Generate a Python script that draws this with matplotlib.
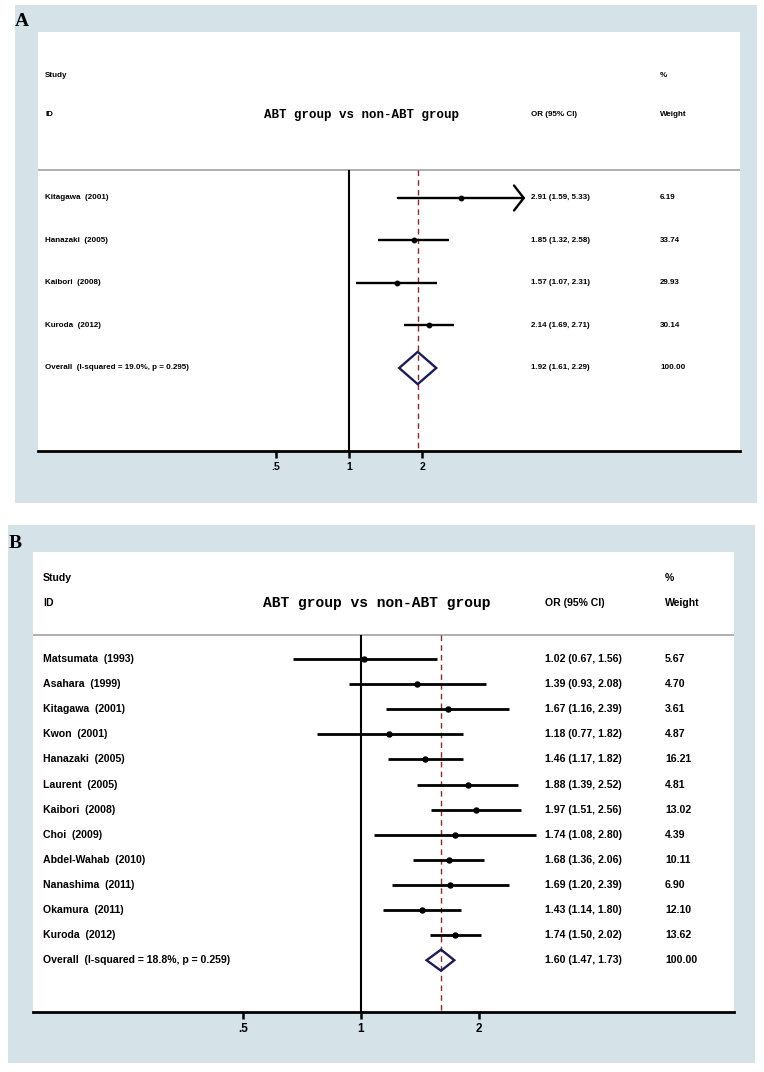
import numpy as np
import matplotlib.pyplot as plt
from matplotlib.patches import Rectangle, Polygon
from matplotlib.transforms import blended_transform_factory

# ---- data: panel A ----
a_study = ['Kitagawa  (2001)', 'Hanazaki  (2005)', 'Kaibori  (2008)', 'Kuroda  (2012)']
a_or = [2.91, 1.85, 1.57, 2.14]
a_lo = [1.59, 1.32, 1.07, 1.69]
a_hi = [5.33, 2.58, 2.31, 2.71]
a_weight = [6.19, 33.74, 29.93, 30.14]
a_arrow = [True, False, False, False]
a_overall = [1.92, 1.61, 2.29]
a_overall_label = 'Overall  (I-squared = 19.0%, p = 0.295)'

# ---- data: panel B ----
b_study = ['Matsumata  (1993)', 'Asahara  (1999)', 'Kitagawa  (2001)', 'Kwon  (2001)',
           'Hanazaki  (2005)', 'Laurent  (2005)', 'Kaibori  (2008)', 'Choi  (2009)',
           'Abdel-Wahab  (2010)', 'Nanashima  (2011)', 'Okamura  (2011)', 'Kuroda  (2012)']
b_or = [1.02, 1.39, 1.67, 1.18, 1.46, 1.88, 1.97, 1.74, 1.68, 1.69, 1.43, 1.74]
b_lo = [0.67, 0.93, 1.16, 0.77, 1.17, 1.39, 1.51, 1.08, 1.36, 1.20, 1.14, 1.50]
b_hi = [1.56, 2.08, 2.39, 1.82, 1.82, 2.52, 2.56, 2.80, 2.06, 2.39, 1.80, 2.02]
b_weight = [5.67, 4.70, 3.61, 4.87, 16.21, 4.81, 13.02, 4.39, 10.11, 6.90, 12.10, 13.62]
b_arrow = [False] * 12
b_overall = [1.60, 1.47, 1.73]
b_overall_label = 'Overall  (I-squared = 18.8%, p = 0.259)'

tick_vals = [0.5, 1, 2]
tick_labels = ['.5', '1', '2']
title = 'ABT group vs non-ABT group'

W, H = 764, 1072
BG = '#d5e2e8'
NAVY = '#1c1c54'
RED = '#8b2b2b'
SANS = ['Liberation Sans Narrow', 'Liberation Sans', 'DejaVu Sans']

fig = plt.figure(figsize=(W / 100, H / 100), dpi=100)


def px_rect(x0, y0, x1, y1):
    return [x0 / W, 1 - y1 / H, (x1 - x0) / W, (y1 - y0) / H]


def panel(box, white, label, label_xy, x1px, per2, rows_px, study, ors, los, his, wts,
          arrows, overall, overall_label, hdr_px, fs, tfs, tick_fs, lw, ms, dh):
    fig.add_artist(Rectangle(box[:2], box[2], box[3], transform=fig.transFigure,
                             facecolor=BG, edgecolor='none', zorder=-5))
    fig.text(label_xy[0] / W, 1 - label_xy[1] / H, label, family='Liberation Serif',
             weight='bold', fontsize=14, ha='center', va='center')
    x0, y0, x1, y1 = white
    ax = fig.add_axes(px_rect(x0, y0, x1, y1))
    ax.set_xscale('log', base=2)
    ax.set_xlim(2 ** (-(x1px - x0) / per2), 2 ** ((x1 - x1px) / per2))
    first, step = rows_px
    ax.set_ylim((y1 - first) / step, (y0 - first) / step)
    n = len(study)
    rows = np.arange(n)
    study_y, id_y, sep_y = [(p - first) / step for p in hdr_px[:3]]
    ybot = ax.get_ylim()[0]

    ax.axhline(sep_y, color='#9a9a9a', lw=1.1)
    ax.vlines(1, sep_y, ybot, color='black', lw=1.5, zorder=3)
    ax.vlines(overall[0], sep_y, ybot, color=RED, lw=1.0, linestyles=(0, (4, 3)), zorder=3)

    for i in rows:
        if arrows[i]:
            ax.annotate('', xy=(his[i], i), xytext=(los[i], i),
                        arrowprops=dict(arrowstyle='->,head_length=0.7,head_width=0.9',
                                        lw=lw, color='black', mutation_scale=10,
                                        shrinkA=0, shrinkB=0), zorder=4)
        else:
            ax.hlines(i, los[i], his[i], color='black', lw=lw, zorder=4)
    ax.plot(ors, rows, 'o', color='black', ms=ms, zorder=5)

    est, lo, hi = overall
    ax.add_patch(Polygon([(lo, n), (est, n - dh), (hi, n), (est, n + dh)], closed=True,
                         fill=False, edgecolor=NAVY, lw=1.7, joinstyle='miter', zorder=5))

    tr = blended_transform_factory(ax.transAxes, ax.transData)
    lx = (hdr_px[3] - x0) / (x1 - x0)
    ox = (hdr_px[4] - x0) / (x1 - x0)
    wx = (hdr_px[5] - x0) / (x1 - x0)
    kw = dict(transform=tr, family=SANS, weight='bold', fontsize=fs, va='center')
    ax.text(lx, study_y, 'Study', **kw)
    ax.text(lx, id_y, 'ID', **kw)
    ax.text(ox, id_y, 'OR (95% CI)', **kw)
    ax.text(wx, study_y, '%', **kw)
    ax.text(wx, id_y, 'Weight', **kw)
    ax.text((hdr_px[6] - x0) / (x1 - x0), id_y, title, transform=tr,
            family=['Liberation Mono', 'DejaVu Sans Mono'], weight='bold', fontsize=tfs,
            ha='center', va='center')
    for i in rows:
        ax.text(lx, i, study[i], **kw)
        ax.text(ox, i, f'{ors[i]:.2f} ({los[i]:.2f}, {his[i]:.2f})', **kw)
        ax.text(wx, i, f'{wts[i]:.2f}', **kw)
    ax.text(lx, n, overall_label, **kw)
    ax.text(ox, n, f'{est:.2f} ({lo:.2f}, {hi:.2f})', **kw)
    ax.text(wx, n, '100.00', **kw)

    for s in ['top', 'left', 'right']:
        ax.spines[s].set_visible(False)
    ax.spines['bottom'].set_linewidth(2.0)
    ax.set_yticks([])
    ax.set_xticks(tick_vals)
    ax.set_xticklabels(tick_labels, fontweight='bold', family=SANS, fontsize=tick_fs)
    ax.minorticks_off()
    ax.tick_params(axis='x', direction='out', length=5, width=1.8, pad=3)
    return ax


panel(px_rect(15, 5, 757, 503), (38, 32, 740, 451), 'A', (22, 21), 349, 73, (198, 42.5),
      a_study, a_or, a_lo, a_hi, a_weight, a_arrow, a_overall, a_overall_label,
      (76, 115, 170, 45, 531, 660, 362), 5.8, 9, 7.5, 1.7, 3.2, 0.38)

panel(px_rect(8, 525, 755, 1063), (33, 552, 734, 1012), 'B', (15, 543), 361, 118, (659, 25.1),
      b_study, b_or, b_lo, b_hi, b_weight, b_arrow, b_overall, b_overall_label,
      (578, 603, 635, 43, 545, 665, 377), 7.6, 10.5, 8.5, 2.0, 3.6, 0.42)

fig.savefig('out.png', dpi=100, facecolor='white')
